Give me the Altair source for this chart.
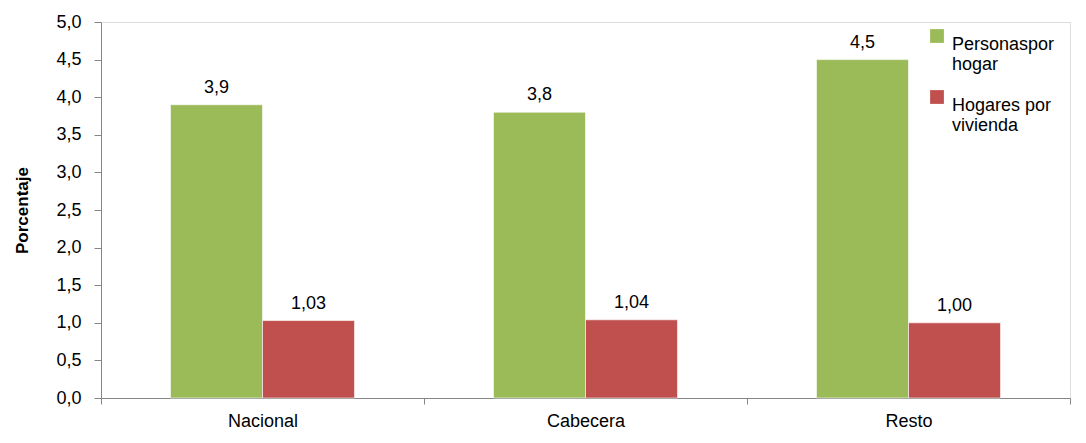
import altair as alt
import pandas as pd

categories = ["Nacional", "Cabecera", "Resto"]
series = ["Personas por hogar", "Hogares por vivienda"]
personas_por_hogar = [3.9, 3.8, 4.5]
hogares_por_vivienda = [1.03, 1.04, 1.00]
colors = ["#9BBB59", "#C0504D"]
y_ticks = [0, 0.5, 1, 1.5, 2, 2.5, 3, 3.5, 4, 4.5, 5]

rows = []
for c, v in zip(categories, personas_por_hogar):
    rows.append({"cat": c, "serie": series[0], "val": v,
                 "lab": f"{v:.1f}".replace(".", ",")})
for c, v in zip(categories, hogares_por_vivienda):
    rows.append({"cat": c, "serie": series[1], "val": v,
                 "lab": f"{v:.2f}".replace(".", ",")})
df = pd.DataFrame(rows)

FONT = "Liberation Sans"

x = alt.X("cat:N", sort=categories, title=None,
          scale=alt.Scale(paddingInner=0, paddingOuter=0),
          axis=alt.Axis(tickBand="extent", tickSize=6, domainColor="#868686",
                        tickColor="#868686", labelAngle=0, labelFont=FONT,
                        labelFontSize=18, labelColor="#000000", labelPadding=8,
                        grid=False))
xoff = alt.XOffset("serie:N", sort=series,
                   scale=alt.Scale(paddingInner=0, paddingOuter=0.755))
y = alt.Y("val:Q", title="Porcentaje",
          scale=alt.Scale(domain=[0, 5], nice=False),
          axis=alt.Axis(values=y_ticks, format=".1f", tickSize=7,
                        domainColor="#868686", tickColor="#868686",
                        labelFont=FONT, labelFontSize=18, labelColor="#000000",
                        labelPadding=13, grid=False, titleFont=FONT,
                        titleFontSize=17, titleFontWeight="bold",
                        titleColor="#000000", titlePadding=24))

legend_expr = ("datum.label == 'Personas por hogar' ? ['Personaspor', 'hogar'] : "
               "['Hogares por', 'vivienda']")

bars = alt.Chart(df).mark_bar(stroke="white", strokeWidth=0.6).encode(
    x=x, xOffset=xoff, y=y,
    color=alt.Color("serie:N", sort=series,
                    scale=alt.Scale(domain=series, range=colors),
                    legend=alt.Legend(title=None, orient="none", legendX=827,
                                      legendY=5, symbolType="square",
                                      symbolSize=190, symbolStrokeWidth=0,
                                      labelFont=FONT, labelFontSize=18,
                                      labelColor="#000000", labelExpr=legend_expr,
                                      labelBaseline="top", labelOffset=6,
                                      rowPadding=14, labelLimit=200)),
)

text = alt.Chart(df).mark_text(dy=-17, font=FONT, fontSize=18, color="#000000").encode(
    x=x, xOffset=xoff, y=y, text="lab:N")

chart = (bars + text).properties(
    width=969, height=376,
    autosize=alt.AutoSizeParams(type="none"),
    padding={"left": 93, "top": 14, "right": 8, "bottom": 33},
).configure_view(stroke=None).configure(background="white")

chart.save("out.html", embed_options={
    "renderer": "svg", "actions": False,
    "formatLocale": {"decimal": ",", "thousands": ".", "grouping": [3],
                     "currency": ["", "€"]}})
